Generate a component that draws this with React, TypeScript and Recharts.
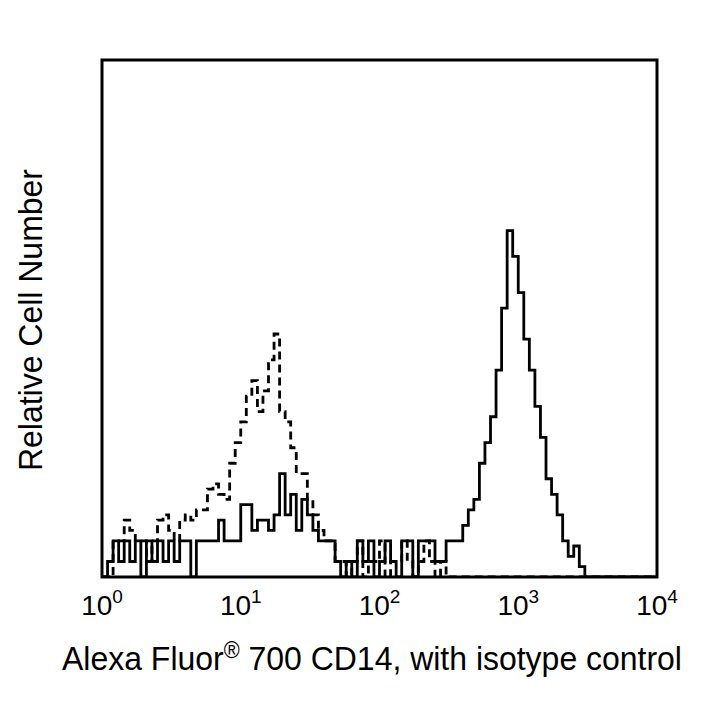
import { LineChart, Line, XAxis, YAxis, ReferenceArea } from "recharts"

// histogram bins, 0.04 decade wide, from 10^0 to 10^4
const BIN_WIDTH = 0.04
const decadeTicks = [0, 1, 2, 3, 4]

// Alexa Fluor 700 CD14 (solid)
const cd14Counts = [
  0, 3, 7, 3, 7, 3, 7, 0, 7, 3,
  7, 3, 7, 3, 7, 7, 0, 7, 7, 7,
  7, 11, 7, 7, 7, 14, 14, 9, 11, 11,
  9, 12, 20, 12, 16, 9, 15, 12, 9, 7,
  7, 7, 3, 0, 3, 0, 7, 3, 7, 0,
  3, 7, 3, 0, 7, 7, 0, 7, 7, 7,
  3, 3, 7, 7, 7, 10, 13, 15, 22, 26,
  31, 40, 52, 67, 62, 55, 46, 40, 33, 27,
  19, 16, 12, 7, 4, 6, 2, 0, 0, 0,
  0, 0, 0, 0, 0, 0, 0, 0, 0, 0,
]

// isotype control (dashed)
const isotypeCounts = [
  0, 0, 7, 7, 11, 9, 7, 7, 3, 7,
  11, 12, 9, 7, 11, 12, 11, 13, 13, 17,
  18, 16, 15, 22, 26, 30, 35, 38, 32, 36,
  42, 47, 32, 30, 25, 20, 20, 15, 12, 9,
  7, 7, 3, 3, 0, 3, 7, 0, 3, 3,
  7, 0, 3, 3, 7, 3, 0, 3, 7, 3,
  0, 3, 0, 0, 0, 0, 0, 0, 0, 0,
  0, 0, 0, 0, 0, 0, 0, 0, 0, 0,
  0, 0, 0, 0, 0, 0, 0, 0, 0, 0,
  0, 0, 0, 0, 0, 0, 0, 0, 0, 0,
]

function toSteps(counts: number[]) {
  const pts = counts.map((c, i) => ({ x: Math.round(i * BIN_WIDTH * 100) / 100, y: c }))
  pts.push({ x: 4, y: 0 })
  return pts
}

const cd14Data = toSteps(cd14Counts)
const isotypeData = toSteps(isotypeCounts)

const FONT = "'Liberation Sans', Arial, sans-serif"

function PowerTick({ x, y, payload }: any) {
  return (
    <text x={x} y={y + 30} textAnchor="middle" fontFamily={FONT} fontSize={28} fill="#000">
      <tspan>10</tspan>
      <tspan dy={-12} fontSize={19}>{payload.value}</tspan>
    </text>
  )
}

export default function App() {
  return (
    <div style={{ position: "absolute", left: 0, top: 0, width: 720, height: 720, background: "#fff" }}>
      <LineChart
        width={720}
        height={720}
        margin={{ top: 60, right: 63, left: 102, bottom: 83 }}
      >
        <XAxis
          type="number"
          dataKey="x"
          domain={[0, 4]}
          ticks={decadeTicks}
          tick={<PowerTick />}
          tickLine={false}
          axisLine={false}
          height={60}
          allowDataOverflow
        />
        <YAxis type="number" domain={[0, 100]} hide allowDataOverflow />
        <ReferenceArea
          x1={0}
          x2={4}
          y1={0}
          y2={100}
          fill="none"
          stroke="#000"
          strokeWidth={3}
          ifOverflow="extendDomain"
        />
        <Line
          data={isotypeData}
          dataKey="y"
          type="stepAfter"
          stroke="#000"
          strokeWidth={2.8}
          strokeDasharray="8 5"
          dot={false}
          isAnimationActive={false}
        />
        <Line
          data={cd14Data}
          dataKey="y"
          type="stepAfter"
          stroke="#000"
          strokeWidth={2.8}
          dot={false}
          isAnimationActive={false}
        />
      </LineChart>
      <div
        style={{
          position: "absolute",
          left: 372 - 400,
          top: 638,
          width: 800,
          height: 40,
          lineHeight: "40px",
          textAlign: "center",
          fontFamily: FONT,
          fontSize: 34,
          whiteSpace: "nowrap",
          transform: "scaleX(0.94)",
        }}
      >
        Alexa Fluor<sup style={{ fontSize: 23, lineHeight: 0 }}>®</sup> 700 CD14, with isotype control
      </div>
      <div
        style={{
          position: "absolute",
          left: 30 - 200,
          top: 320 - 20,
          width: 400,
          height: 40,
          lineHeight: "40px",
          textAlign: "center",
          transform: "rotate(-90deg) scaleX(0.94)",
          fontFamily: FONT,
          fontSize: 34,
          whiteSpace: "nowrap",
        }}
      >
        Relative Cell Number
      </div>
    </div>
  )
}
